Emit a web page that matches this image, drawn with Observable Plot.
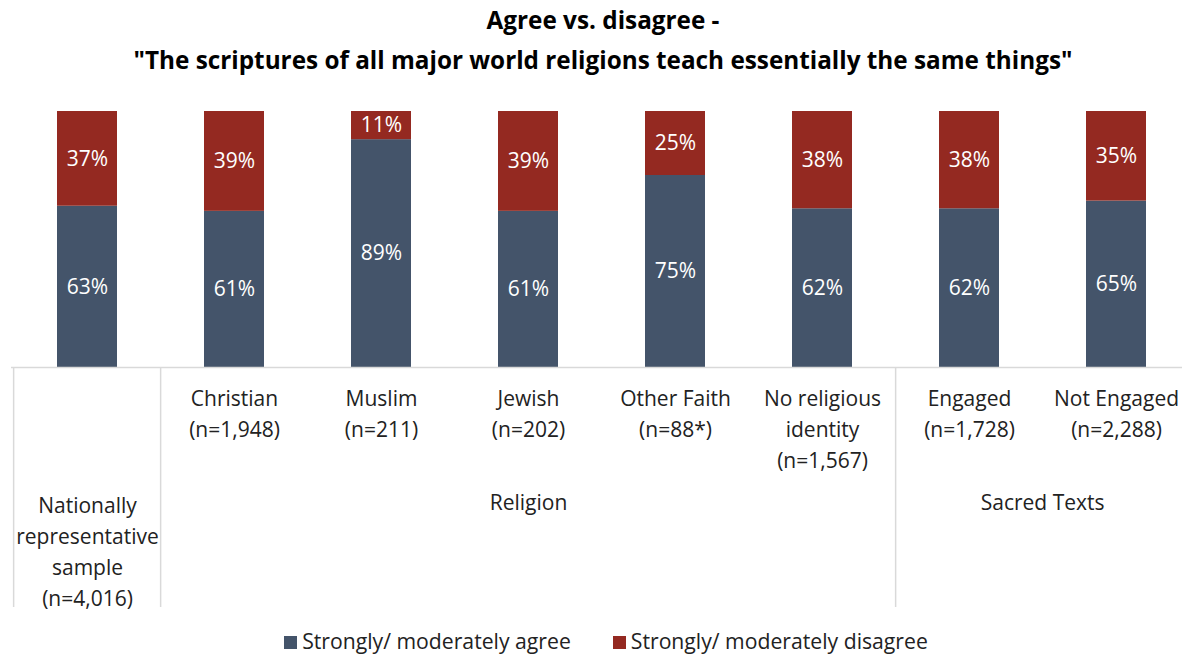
<!DOCTYPE html>
<html>
<head>
<meta charset="utf-8">
<script src="https://cdn.jsdelivr.net/npm/d3@7"></script>
<script src="https://cdn.jsdelivr.net/npm/@observablehq/plot@0.6"></script>
<style>
  html, body { margin: 0; padding: 0; background: #fff; }
  body { width: 1182px; height: 654px; overflow: hidden; font-family: "Open Sans", sans-serif; }
  #title { height: 100px; box-sizing: border-box; padding-left: 24px; text-align: center; font-weight: bold; font-size: 24.3px; line-height: 40px; color: #000; white-space: nowrap; }
  #chart svg { display: block; }
  #legend { margin-top: 13px; height: 26px; box-sizing: border-box; padding-left: 30px; line-height: 26px; text-align: center; font-size: 21.2px; color: #222; white-space: nowrap; }
  #legend .item { display: inline-block; margin: 0 21px; }
  #legend .sw { display: inline-block; width: 13px; height: 13px; margin-right: 5px; vertical-align: 0px; }
</style>
</head>
<body>
<div id="title">Agree vs. disagree -<br>"The scriptures of all major world religions teach essentially the same things"</div>
<div id="chart"></div>
<div id="legend"></div>
<script>
const categories = ["National", "Christian", "Muslim", "Jewish", "Other Faith", "No religious identity", "Engaged", "Not Engaged"];
const categoryLabels = [
  "Nationally\nrepresentative\nsample\n(n=4,016)",
  "Christian\n(n=1,948)",
  "Muslim\n(n=211)",
  "Jewish\n(n=202)",
  "Other Faith\n(n=88*)",
  "No religious\nidentity\n(n=1,567)",
  "Engaged\n(n=1,728)",
  "Not Engaged\n(n=2,288)"
];
const series = ["Strongly/ moderately agree", "Strongly/ moderately disagree"];
const agree = [63, 61, 89, 61, 75, 62, 62, 65];
const disagree = [37, 39, 11, 39, 25, 38, 38, 35];
const groupLabels = ["Religion", "Sacred Texts"];
const groupMembers = [
  ["Christian", "Muslim", "Jewish", "Other Faith", "No religious identity"],
  ["Engaged", "Not Engaged"]
];
const colors = ["#44546A", "#942921"];

const data = [];
categories.forEach((c, i) => {
  data.push({cat: c, series: series[0], value: agree[i] / 100});
  data.push({cat: c, series: series[1], value: disagree[i] / 100});
});

const x0 = 11, x1 = 1193;
const step = (x1 - x0) / categories.length;
const sepCats = [categories[0], groupMembers[0][0], groupMembers[1][0]];
const groups = groupLabels.map((g, i) => {
  const m = groupMembers[i];
  return {label: g, anchor: m[Math.floor(m.length / 2)], dx: m.length % 2 ? 0 : -step / 2};
});
const font = "'Open Sans', sans-serif";
const fs = 21;
const lh = 31 / fs;
const ink = "#222";

const plot = Plot.plot({
  width: 1182,
  height: 515,
  marginTop: 11,
  marginBottom: 248,
  marginLeft: 11,
  marginRight: 0,
  style: {fontFamily: font, background: "transparent"},
  x: {domain: categories, range: [x0, x1], paddingInner: 0.59, paddingOuter: 0.295, axis: null},
  y: {domain: [0, 1], axis: null},
  color: {domain: series, range: colors},
  marks: [
    Plot.barY(data, Plot.stackY({x: "cat", y: "value", z: "series", fill: "series"})),
    Plot.text(data, Plot.stackY({x: "cat", y: "value", z: "series",
      text: d => Math.round(d.value * 100) + "%", fill: "white", fontSize: fs})),
    Plot.ruleY([0], {stroke: "#d9d9d9", strokeWidth: 1.5}),
    Plot.ruleX(sepCats, {x: d => d, dx: -step / 2, y1: 0, y2: -0.9375, stroke: "#d9d9d9", strokeWidth: 1.5}),
    Plot.text(categories.slice(1), {x: d => d, text: (d, i) => categoryLabels[i + 1],
      frameAnchor: "bottom", lineAnchor: "top", dy: 16, lineHeight: lh, fontSize: fs, fill: ink}),
    Plot.text([categories[0]], {x: d => d, text: () => categoryLabels[0],
      frameAnchor: "bottom", lineAnchor: "middle", dy: 182, lineHeight: lh, fontSize: fs, fill: ink}),
    ...groups.map(g => Plot.text([g], {x: "anchor", dx: g.dx, text: "label",
      frameAnchor: "bottom", lineAnchor: "middle", dy: 136, fontSize: fs, fill: ink}))
  ]
});
document.getElementById("chart").appendChild(plot);

const legend = document.getElementById("legend");
series.forEach((s, i) => {
  const item = document.createElement("span");
  item.className = "item";
  const sw = document.createElement("span");
  sw.className = "sw";
  sw.style.background = colors[i];
  item.appendChild(sw);
  item.appendChild(document.createTextNode(s));
  legend.appendChild(item);
});
</script>
</body>
</html>
